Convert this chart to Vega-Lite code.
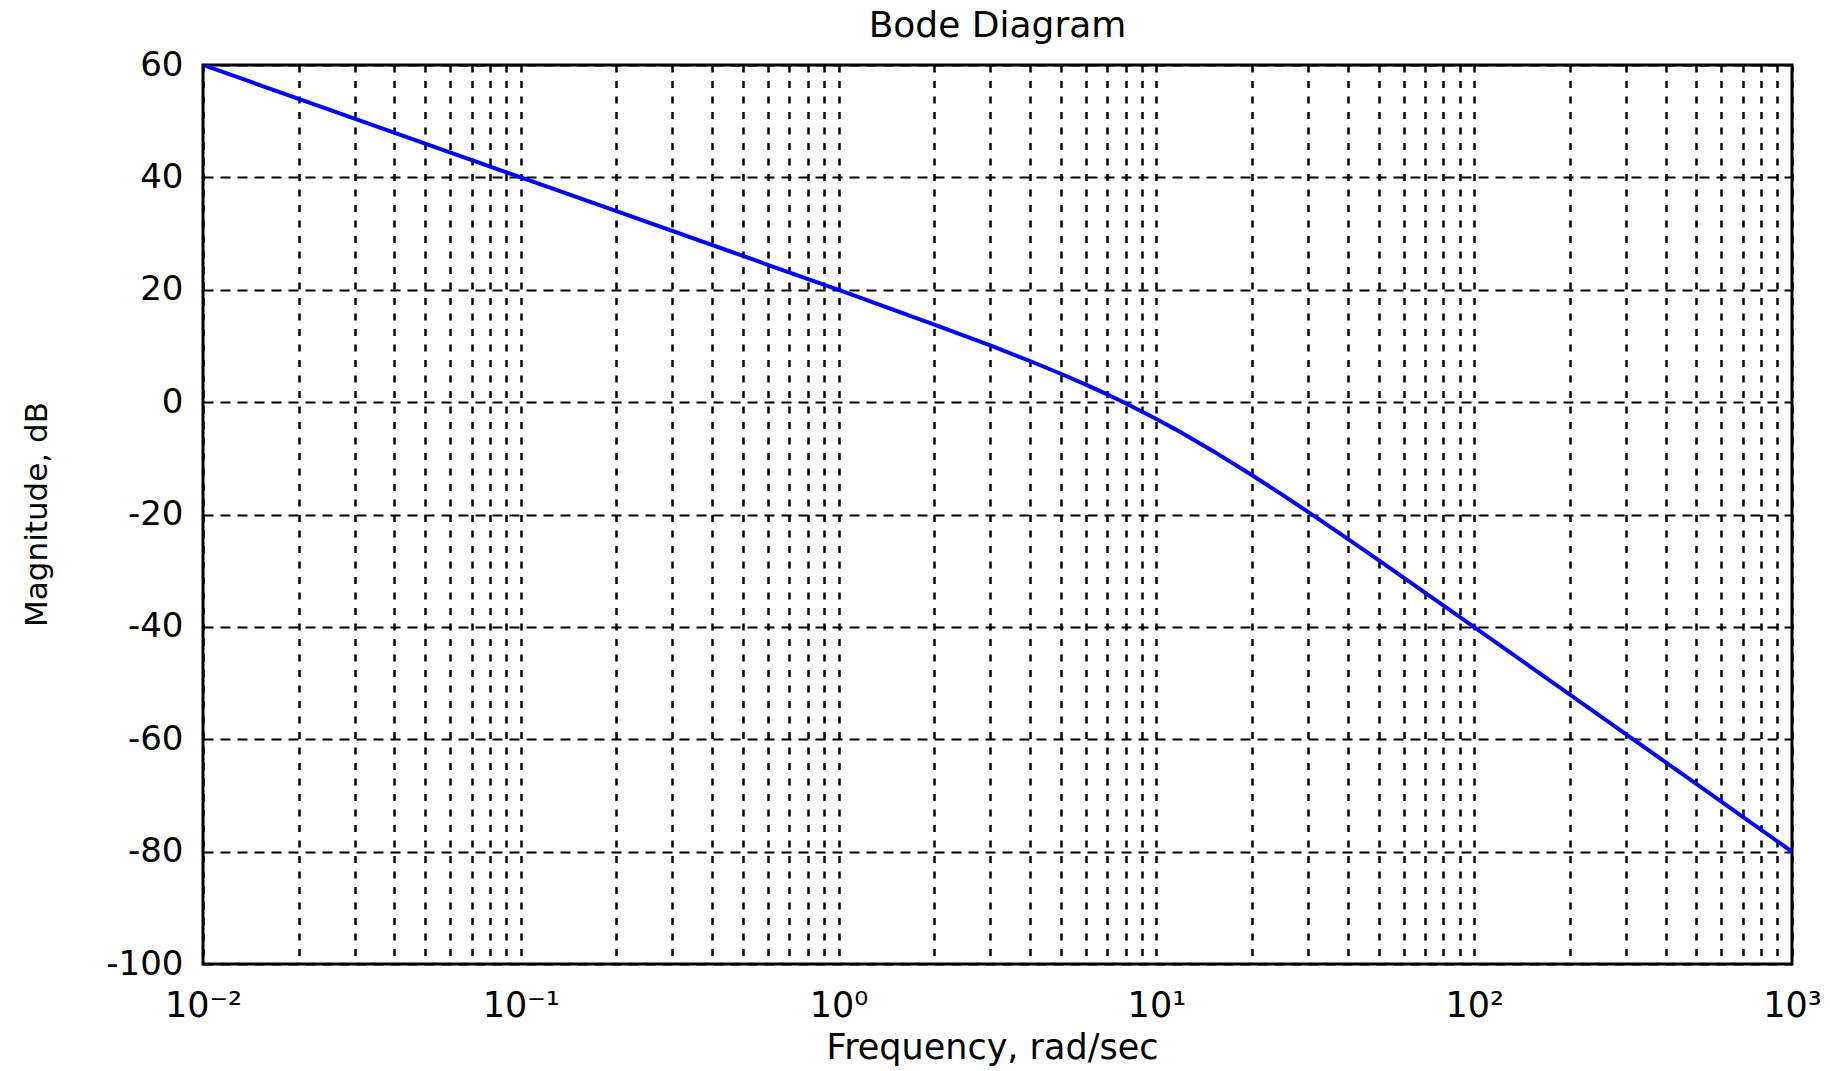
{
  "$schema": "https://vega.github.io/schema/vega-lite/v6.json",
  "width": 1589,
  "height": 899,
  "autosize": {"type": "none"},
  "padding": {"left": 203, "top": 65, "right": 38, "bottom": 107},
  "background": "white",
  "title": {"text": "Bode Diagram", "fontSize": 36, "font": "DejaVu Sans", "fontWeight": "normal", "color": "black", "anchor": "middle", "baseline": "alphabetic", "offset": 27, "dy": 52},
  "config": {
    "view": {"stroke": "black", "strokeWidth": 3},
    "axis": {"labelFont": "DejaVu Sans", "titleFont": "DejaVu Sans", "labelColor": "black", "titleColor": "black", "titleFontWeight": "normal", "ticks": false, "domain": false, "gridColor": "black", "gridOpacity": 1, "labelOverlap": false}
  },
  "data": {"values": [
    {"w": 0.01, "mag": 60.0}, {"w": 0.02, "mag": 53.98}, {"w": 0.05, "mag": 46.02}, {"w": 0.1, "mag": 40.0},
    {"w": 0.2, "mag": 33.98}, {"w": 0.5, "mag": 26.01}, {"w": 1, "mag": 19.96}, {"w": 2, "mag": 13.81},
    {"w": 3, "mag": 10.08}, {"w": 4, "mag": 7.32}, {"w": 5, "mag": 5.05}, {"w": 6, "mag": 3.1},
    {"w": 7, "mag": 1.37}, {"w": 8, "mag": -0.21}, {"w": 10, "mag": -3.01}, {"w": 12, "mag": -5.45},
    {"w": 15, "mag": -8.64}, {"w": 20, "mag": -13.01}, {"w": 25, "mag": -16.56}, {"w": 30, "mag": -19.54},
    {"w": 40, "mag": -24.34}, {"w": 50, "mag": -28.13}, {"w": 70, "mag": -33.89}, {"w": 100, "mag": -40.04},
    {"w": 150, "mag": -47.06}, {"w": 200, "mag": -52.05}, {"w": 300, "mag": -59.09}, {"w": 500, "mag": -67.96},
    {"w": 700, "mag": -73.8}, {"w": 1000, "mag": -80.0}
  ]},
  "mark": {"type": "line", "color": "#0000ff", "strokeWidth": 4, "clip": true},
  "encoding": {
    "x": {
      "field": "w", "type": "quantitative",
      "scale": {"type": "log", "domain": [0.01, 1000], "nice": false},
      "axis": {
        "values": [0.01, 0.02, 0.03, 0.04, 0.05, 0.06, 0.07, 0.08, 0.09, 0.1, 0.2, 0.3, 0.4, 0.5, 0.6, 0.7, 0.8, 0.9, 1, 2, 3, 4, 5, 6, 7, 8, 9, 10, 20, 30, 40, 50, 60, 70, 80, 90, 100, 200, 300, 400, 500, 600, 700, 800, 900, 1000],
        "labelExpr": "datum.value == 0.01 ? '10⁻²' : datum.value == 0.1 ? '10⁻¹' : datum.value == 1 ? '10⁰' : datum.value == 10 ? '10¹' : datum.value == 100 ? '10²' : datum.value == 1000 ? '10³' : ''",
        "labelFontSize": 35, "labelPadding": 24, "labelAlign": "center",
        "gridDash": [7, 8.5], "gridWidth": 2.5,
        "title": "Frequency, rad/sec", "titleFontSize": 35,
        "titleX": 789, "titleY": 94, "titleBaseline": "alphabetic", "titleAlign": "center"
      }
    },
    "y": {
      "field": "mag", "type": "quantitative",
      "scale": {"domain": [-100, 60], "nice": false, "zero": false},
      "axis": {
        "values": [-100, -80, -60, -40, -20, 0, 20, 40, 60],
        "labelExpr": "replace(datum.label, '−', '-')",
        "labelFontSize": 34, "labelPadding": 20,
        "gridDash": [10, 7], "gridWidth": 2,
        "title": "Magnitude, dB", "titleFontSize": 31,
        "titleX": -166, "titleY": 449, "titleAngle": -90, "titleBaseline": "middle", "titleAlign": "center"
      }
    }
  }
}
